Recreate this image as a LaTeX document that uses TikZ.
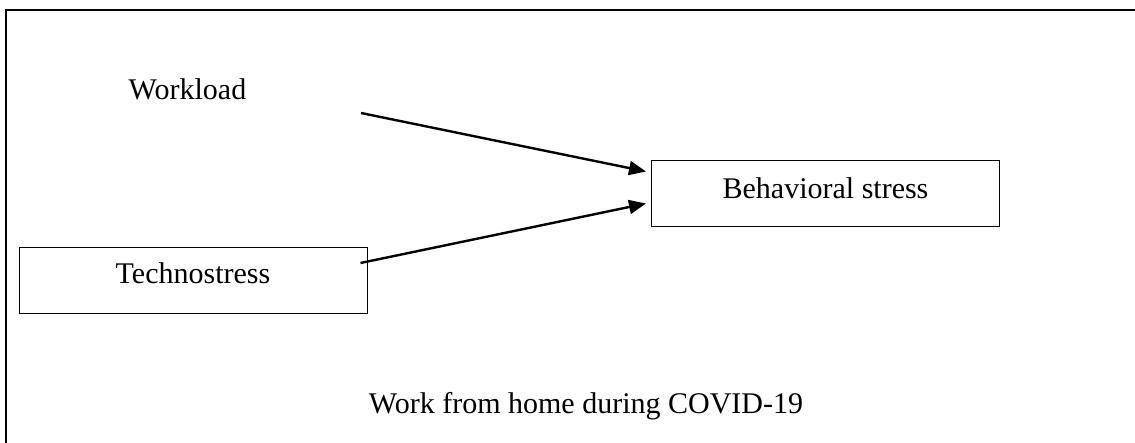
\documentclass[tikz,border=0pt]{standalone}
\usepackage{fontspec}
\setmainfont{Liberation Serif}
\usetikzlibrary{arrows.meta}
\tikzset{
	box/.style={draw,line width=0.5pt,inner sep=0pt,text height=10pt,text depth=7pt},
	link/.style={line width=1.2pt,-{Triangle[length=8.5pt,width=7pt]}}
}
\begin{document}
\begin{tikzpicture}[x=0.5pt,y=-0.5pt,font=\fontsize{15}{18}\selectfont]
		\useasboundingbox (0,0) rectangle (1135,443);
		\draw[line width=1pt] (1135,10) -- (6,10) -- (6,443);
		\node[anchor=base] (work) at (187.5,100) {Workload};
		\node[box,minimum width=174pt,minimum height=33pt] (tech) at (193,281) {Technostress};
		\node[box,text depth=5pt,minimum width=174pt,minimum height=33pt] (beh) at (825.5,193.5) {Behavioral stress};
		\node[anchor=base] (home) at (586,413) {Work from home during COVID-19};
		\coordinate (w1) at (361,113);
		\draw[link] (w1) -- ([xshift=-2.5pt,yshift=11pt]beh.west);
		\draw[link] ([xshift=-3.5pt,yshift=9pt]tech.east) -- ([xshift=-2.5pt,yshift=-5pt]beh.west);
	\end{tikzpicture}
\end{document}
